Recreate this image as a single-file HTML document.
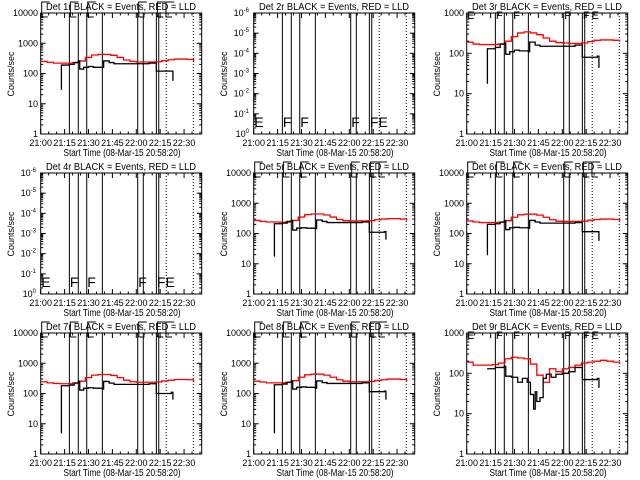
<!DOCTYPE html>
<html><head><meta charset="utf-8"><style>
html,body{margin:0;padding:0;background:#fff;}
svg{display:block;font-family:"Liberation Sans",sans-serif;}
</style></head><body>
<svg id="fig" width="640" height="480" viewBox="0 0 640 480" xmlns="http://www.w3.org/2000/svg"></svg>
<script>
// ---- data ----
const detNames = ["1r","2r","3r","4r","5r","6r","7r","8r","9r"];
const yTopDecade = [4, 6, 3, 6, 4, 4, 4, 4, 3];
const emptyPanel = [false,true,false,true,false,false,false,false,false];
const redTimes = [0,4,8,12,16,20,24,28,32,36,40,44,48,52,56,60,64,68,72,76,80,84,88,92,96];
const red1 = [250,235,220,220,220,230,260,340,410,430,430,400,340,280,250,240,240,240,245,265,285,300,300,290,250];
const red3 = [190,170,165,165,165,170,200,260,320,340,320,290,240,200,185,180,175,175,180,195,210,215,215,210,195];
const red5 = [270,250,240,240,235,240,270,350,420,440,440,410,350,290,265,260,260,260,265,285,300,310,310,300,265];
const red6 = [260,240,230,230,230,235,265,345,415,435,435,405,345,285,255,250,250,250,255,275,290,300,300,290,255];
const red7 = [245,225,215,210,210,225,255,335,405,425,425,395,335,275,245,235,235,235,240,260,275,290,290,285,240];
const red8 = [255,240,225,225,225,235,265,345,415,435,435,405,345,285,255,245,245,245,250,270,285,300,300,290,255];
const red9 = [190,160,160,160,165,180,230,250,240,230,170,90,60,130,110,130,140,160,180,190,200,210,200,190,170];
const blackT1 = [12.8,13,18,21,23.6,24.5,27,30,33,38.7,39.5,43,46,60,68,72.6,82,83];
const blackV1 = [30,190,200,230,260,140,160,170,160,160,260,230,210,210,220,120,120,60];
const blackV3 = [18,130,140,170,180,95,110,120,115,110,190,160,150,150,160,80,85,45];
const blackV5 = [18,210,220,250,270,130,150,155,150,145,280,250,230,230,240,110,115,65];
const blackV6 = [20,200,210,240,265,135,155,160,155,150,270,240,220,220,230,115,115,60];
const blackV7 = [5,180,190,220,250,130,150,155,150,140,250,220,200,200,210,100,110,65];
const blackV8 = [5,195,205,235,260,140,160,165,160,150,260,230,215,215,225,115,120,65];
const blackT9 = [12.8,18,23.6,24.5,28,32,35,38,40,42,43,44,46,48,50,53,56,60,64,68,72.6,82,83];
const blackV9 = [130,140,150,85,80,60,75,60,30,13,35,20,25,75,95,80,95,100,110,140,70,75,45];
const solidLines = [18,23.6,28.9,38.7,60.9,64.4,72.6,74.1];
const dottedLines = [78.8,95.8];
const flagTimes = [0,18,28.9,60.9,72.6,78];
const flagLetters = ["E","F","F","F","F","E"];
const xTickLabels = ["21:00","21:15","21:30","21:45","22:00","22:15","22:30"];
const reds = [red1,null,red3,null,red5,red6,red7,red8,red9];
const blacks = [[blackT1,blackV1],null,[blackT1,blackV3],null,[blackT1,blackV5],[blackT1,blackV6],[blackT1,blackV7],[blackT1,blackV8],[blackT9,blackV9]];

const NS="http://www.w3.org/2000/svg";
const fig=document.getElementById('fig');
function mk(tag,attrs,parent){const e=document.createElementNS(NS,tag);for(const k in attrs)e.setAttribute(k,attrs[k]);parent.appendChild(e);return e;}

const L=40.7,R=201.7,T=13,B=134,PXM=1.593;
for(let p=0;p<9;p++){
  const ox=(p%3)*213, oy=Math.floor(p/3)*160;
  const g=mk('g',{transform:`translate(${ox},${oy})`},fig);
  
  
  const top=yTopDecade[p];
  const empty=emptyPanel[p];
  const nDec = top;
  const bot = 0;
  const xs=m=>L+m*PXM;
  const ys=v=>B-(Math.log10(v)-bot)/nDec*(B-T);
  const yd=d=>B-(d-bot)/nDec*(B-T);
  const tt=mk('text',{x:121,y:10,'font-size':10,'text-anchor':'middle',textLength:150,lengthAdjust:'spacingAndGlyphs'},g);
  tt.textContent=`Det ${detNames[p]} BLACK = Events, RED = LLD`;
  
  
  const box=mk('rect',{x:L,y:T,width:R-L,height:B-T,fill:'none',stroke:'#000','stroke-width':1},g);
  
  
  for(let m=0;m<=100;m+=5){const x=xs(m);if(x>R)break;const len=(m%15===0)?5:2.5;
    mk('line',{x1:x,y1:B,x2:x,y2:B-len,stroke:'#000','stroke-width':1},g);
    mk('line',{x1:x,y1:T,x2:x,y2:T+len,stroke:'#000','stroke-width':1},g);}
  xTickLabels.forEach((s,i)=>{const t=mk('text',{x:xs(i*15),y:146,'font-size':9,'text-anchor':'middle'},g);t.textContent=s;
    
    });
  const xt=mk('text',{x:122,y:156,'font-size':10,'text-anchor':'middle',textLength:117,lengthAdjust:'spacingAndGlyphs'},g);
  xt.textContent='Start Time (08-Mar-15 20:58:20)';
  
  
  const yt=mk('text',{x:0,y:0,'font-size':9,'text-anchor':'middle',transform:'translate(14,74) rotate(-90)'},g);
  yt.textContent='Counts/sec';
  
  
  for(let d=bot;d<=top;d++){const y=yd(d);
    mk('line',{x1:L,y1:y,x2:L+5,y2:y,stroke:'#000'},g);mk('line',{x1:R,y1:y,x2:R-5,y2:y,stroke:'#000'},g);
    if(d<top){for(let k=2;k<10;k++){const yy=y-Math.log10(k)/nDec*(B-T);
      mk('line',{x1:L,y1:yy,x2:L+2.5,y2:yy,stroke:'#000'},g);mk('line',{x1:R,y1:yy,x2:R-2.5,y2:yy,stroke:'#000'},g);}}
    const t=mk('text',{x:empty?36:38,y:y+3,'font-size':9,'text-anchor':'end'},g);
    if(!empty){t.textContent=String(Math.pow(10,d));}
    else{t.textContent='10';const s=mk('tspan',{dy:-4,'font-size':6},t);s.textContent=(d===0?'0':String(-d));}
    
    
  }
  solidLines.forEach(m=>{const l=mk('line',{x1:xs(m),y1:T,x2:xs(m),y2:B,stroke:'#000','stroke-width':1},g);
    });
  dottedLines.forEach(m=>{const l=mk('line',{x1:xs(m),y1:T,x2:xs(m),y2:B,stroke:'#000','stroke-width':1,'stroke-dasharray':'1,2'},g);
    });
  flagTimes.forEach((m,i)=>{
    if(empty){const t=mk('text',{x:xs(m)+0.5,y:B-7,'font-size':14},g);t.textContent=flagLetters[i];
      }
    else if(top===3){const t=mk('text',{x:xs(m)+0.5,y:T+6,'font-size':11},g);t.textContent=flagLetters[i];
      }
    else{const x=xs(m)+1;const pth=mk('path',{d:`M${x},${T+4} V2 H${x+8} M${x},${T+4} H${x+6}`,fill:'none',stroke:'#000'},g);
      }
  });
  if(reds[p]){const r=reds[p];let d='';
    r.forEach((v,i)=>{const x=xs(redTimes[i]),y=ys(v);d+=(i?`H${x}V${y}`:`M${x},${y}`);});
    d+=`H${xs(redTimes[r.length-1])}`;
    const pr=mk('path',{d,fill:'none',stroke:'#ff0000','stroke-width':1.3},g);
    }
  if(blacks[p]){const [bt,bv]=blacks[p];let d='';
    bv.forEach((v,i)=>{const x=xs(bt[i]),y=ys(v);d+=(i?`H${x}V${y}`:`M${x},${y}`);});
    d+=`H${xs(bt[bt.length-1])+0.5}`;
    const pb=mk('path',{d,fill:'none',stroke:'#000','stroke-width':1.3},g);
    }
}
</script>
</body></html>
